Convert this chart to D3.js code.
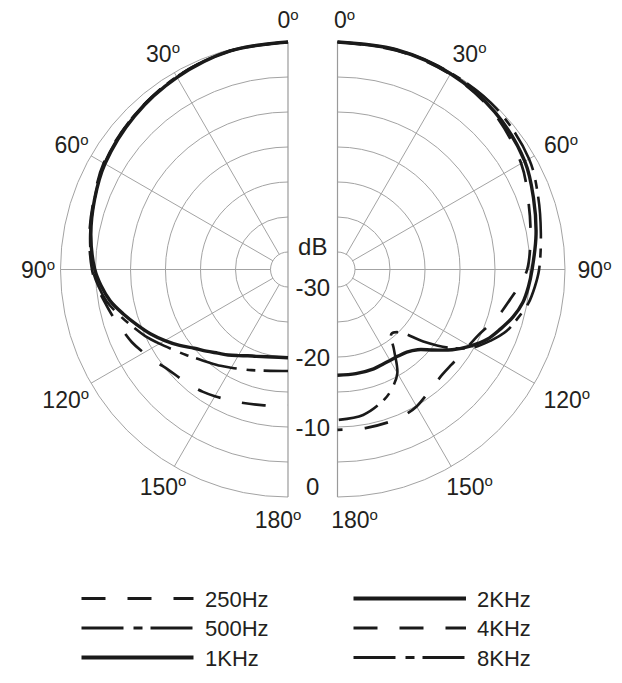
<!DOCTYPE html>
<html><head><meta charset="utf-8">
<script src="https://cdn.jsdelivr.net/npm/d3@7"></script>
<style>
body{margin:0;background:#fff}
svg text{font-family:"Liberation Sans",Arial,sans-serif;fill:#231f20}
</style>
</head><body>
<svg id="chart" width="622" height="683"></svg>
<script>
// ---- data (angle in degrees, level in dB) ----
const angles = [0,15,30,45,60,70,80,90,95,100,105,110,115,120,125,130,135,140,145,150,155,160,170,180];
const hz250 = [0,-0.2,-0.7,-1.4,-2.1,-3.0,-3.7,-4.5,-5.1,-5.9,-6.6,-7.3,-7.9,-8.7,-9.5,-10.2,-10.6,-10.9,-11.2,-11.6,-12.0,-12.3,-12.8,-13.1];
const hz500 = [0,-0.2,-0.7,-1.4,-2.2,-3.1,-3.8,-4.6,-5.3,-6.2,-7.5,-8.8,-10.0,-11.3,-12.5,-13.5,-14.4,-15.1,-15.7,-16.3,-16.8,-17.2,-17.8,-18.0];
const hz1k  = [0,-0.2,-0.8,-1.5,-2.3,-3.1,-3.9,-4.9,-5.7,-6.7,-8.1,-9.5,-10.8,-12.2,-13.6,-15.0,-16.0,-16.9,-17.6,-18.3,-18.9,-19.3,-19.8,-19.9];
const hz2k  = [0,0,-0.2,-0.7,-1.6,-2.7,-3.7,-4.7,-5.1,-5.6,-6.5,-7.7,-8.9,-10.6,-12.5,-14.6,-16.3,-17.1,-17.4,-17.5,-17.5,-17.4,-17.4,-17.4];
const hz4k  = [0,-0.1,-0.3,-0.9,-2.2,-3.5,-4.5,-5.4,-6.4,-7.5,-8.4,-9.4,-10.3,-10.8,-11.1,-11.3,-11.3,-11.0,-10.5,-9.9,-9.6,-9.5,-9.5,-9.6];
const hz8k  = [0,0,-0.1,-0.2,-0.9,-2.0,-3.0,-3.7,-4.2,-4.8,-5.8,-6.8,-8.4,-10.2,-13.0,-16.5,-19.8,-20.5,-18.4,-15.4,-13.9,-12.8,-11.4,-11.0];
const dbTicks = [-30,-20,-10,0];
const angleTicks = [0,30,60,90,120,150,180];
const legendLeft = ["250Hz","500Hz","1KHz"];
const legendRight = ["2KHz","4KHz","8KHz"];

// ---- styles ----
const DASH = "24,22", DASHDOT = "42,10,9,8";
const series = [
  {name:"250Hz", values:hz250, side:-1, dash:DASH,    w:2.7},
  {name:"500Hz", values:hz500, side:-1, dash:DASHDOT, w:2.6},
  {name:"1KHz",  values:hz1k,  side:-1, dash:null,    w:3.4},
  {name:"4KHz",  values:hz4k,  side:1,  dash:DASH,    w:2.7},
  {name:"8KHz",  values:hz8k,  side:1,  dash:DASHDOT, w:2.6},
  {name:"2KHz",  values:hz2k,  side:1,  dash:null,    w:3.4}
];

const svg = d3.select("#chart");
const cy = 269.5;
const centers = {"-1":288, "1":337.5};
const r = d3.scaleLinear().domain([-30,0]).range([17.5,227.5]);
const rad = d => d*Math.PI/180;
const gridColor = "#a3a3a3";

[-1,1].forEach(side=>{
  const g = svg.append("g").attr("transform",`translate(${centers[side]},${cy})`);
  // rings every 5 dB
  d3.range(-30,0.1,5).forEach(db=>{
    const p = d3.path();
    const rr = r(db);
    p.moveTo(0,-rr);
    p.arc(0,0,rr,-Math.PI/2,Math.PI/2,side<0);
    g.append("path").attr("d",p.toString()).attr("fill","none")
      .attr("stroke",gridColor).attr("stroke-width",1);
  });
  // spokes
  angleTicks.filter(a=>a>0&&a<180).forEach(a=>{
    const s = side*Math.sin(rad(a)), c = -Math.cos(rad(a));
    g.append("line")
      .attr("x1",s*r(-30)).attr("y1",c*r(-30))
      .attr("x2",s*r(0)).attr("y2",c*r(0))
      .attr("stroke",gridColor).attr("stroke-width",1);
  });
  g.append("line").attr("x1",0).attr("x2",0).attr("y1",-r(0)).attr("y2",r(0))
    .attr("stroke","#9a9a9a").attr("stroke-width",1.2);

  // angle labels
  angleTicks.forEach(a=>{
    const R = 250 + (a===120?9:0);
    let x = side*R*Math.sin(rad(a)) + (side>0?7:0);
    const y = -R*Math.cos(rad(a));
    if (a===180) x += side*10;
    if (a===120) x += side*-2;
    const t = g.append("text").attr("x",x).attr("y",y+8.5)
      .attr("text-anchor","middle").attr("font-size",23);
    t.append("tspan").text(a);
    t.append("tspan").text("o").attr("font-size",15).attr("dy",-8.5);
  });
});

// dB labels between halves
const midX = (centers["-1"]+centers["1"])/2;
svg.append("text").attr("x",midX).attr("y",cy-14.5).attr("text-anchor","middle")
  .attr("font-size",24).text("dB");
dbTicks.forEach(db=>{
  const y = Math.min(cy + r(db) + 9, cy + r(0) - 2);
  svg.append("text").attr("x",midX).attr("y",y).attr("text-anchor","middle")
    .attr("font-size",24).text(db);
});

// curves
series.forEach(s=>{
  const pts = angles.map((a,i)=>({a, v:s.values[i]}));
  const line = d3.lineRadial()
    .angle(d=>s.side*rad(d.a))
    .radius(d=>r(d.v))
    .curve(d3.curveCatmullRom.alpha(0.5));
  svg.append("path")
    .attr("transform",`translate(${centers[s.side]},${cy})`)
    .attr("d",line(pts))
    .attr("fill","none").attr("stroke","#1a1a1a")
    .attr("stroke-width",s.w)
    .attr("stroke-dasharray",s.dash)
    .attr("stroke-linejoin","round");
});

// legend
const legY = d3.scalePoint().domain([0,1,2]).range([598.5,657.5]);
const legendCols = [
  {names:legendLeft, x1:81.5, x2:193.5, tx:205},
  {names:legendRight, x1:353.5, x2:466, tx:477}
];
legendCols.forEach(col=>{
  col.names.forEach((n,i)=>{
    const s = series.find(d=>d.name===n);
    const y = legY(i);
    svg.append("line").attr("x1",col.x1).attr("x2",col.x2).attr("y1",y).attr("y2",y)
      .attr("stroke","#1a1a1a").attr("stroke-width",s.dash?2.8:3.8)
      .attr("stroke-dasharray",s.dash);
    svg.append("text").attr("x",col.tx).attr("y",y+8).attr("font-size",22).text(n);
  });
});
</script>
</body></html>
